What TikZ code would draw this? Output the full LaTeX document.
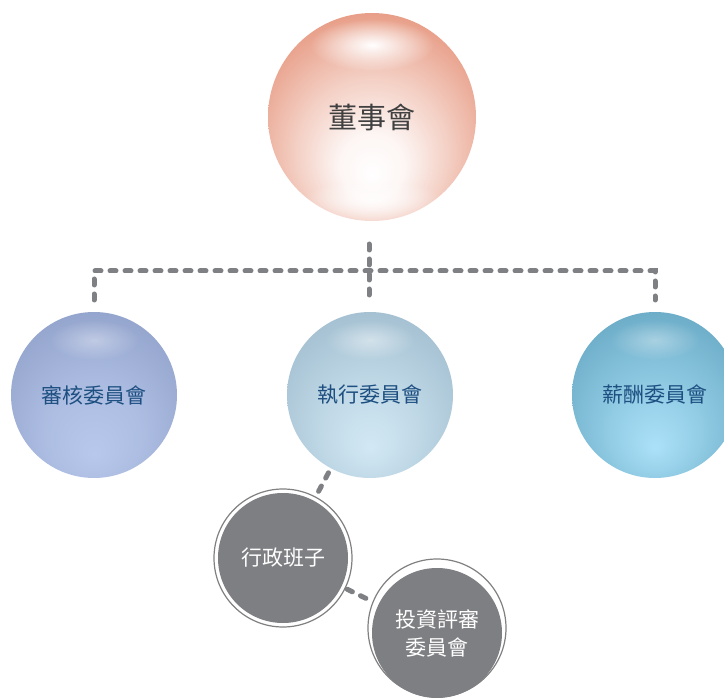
\documentclass[tikz,border=0pt]{standalone}
\usepackage{fontspec}
\newfontfamily\cjk{Noto Sans CJK TC}
\usetikzlibrary{fadings}
\tikzfading[name=glow, inner color=transparent!0, outer color=transparent!100]
\definecolor{salmon}{HTML}{E2866A}
\definecolor{lavA}{HTML}{8495BF}
\definecolor{lavB}{HTML}{B8C8EC}
\definecolor{iceA}{HTML}{8FAEC2}
\definecolor{iceB}{HTML}{D2E8F4}
\definecolor{tealA}{HTML}{5296B3}
\definecolor{tealB}{HTML}{ACE2F9}
\definecolor{ballgray}{HTML}{7E7F83}
\definecolor{dashgray}{HTML}{7F8084}
\definecolor{navy}{HTML}{1D4F80}
% outer circle (50bp) = circle edge
\pgfdeclareradialshading{topball}{\pgfpoint{0bp}{-14bp}}{color(0bp)=(white); color(8bp)=(white!92!salmon); color(20bp)=(salmon!45!white); color(32bp)=(salmon!85!white); color(44bp)=(salmon); color(50bp)=(salmon)}
\pgfdeclareradialshading{lavball}{\pgfpoint{0bp}{-18bp}}{color(0bp)=(lavB); color(14bp)=(lavB!80!lavA); color(38bp)=(lavA!85!lavB); color(50bp)=(lavA)}
\pgfdeclareradialshading{iceball}{\pgfpoint{0bp}{-16bp}}{color(0bp)=(iceB); color(14bp)=(iceB!75!iceA); color(38bp)=(iceA!85!iceB); color(50bp)=(iceA)}
\pgfdeclareradialshading{tealball}{\pgfpoint{0bp}{-16bp}}{color(0bp)=(tealB); color(14bp)=(tealB!70!tealA); color(38bp)=(tealA!85!tealB); color(50bp)=(tealA)}
\tikzset{
  ball/.style={circle, minimum size=166pt, inner sep=0pt},
  balltext/.style={font=\cjk\fontsize{21}{25}\selectfont, text=navy},
  topnode/.style={circle, minimum size=208pt, inner sep=0pt, shading=topball},
  grayball/.style={circle, minimum size=130pt, inner sep=0pt, fill=ballgray, text=white, align=center, font=\cjk\fontsize{21}{28}\selectfont},
  ring/.style={draw=black!50, line width=1.2pt, fill=white},
  dotline/.style={draw=dashgray, line width=5pt, line cap=round, dash pattern=on 6pt off 9pt},
  shine/.style={fill=white, path fading=glow}
}
\begin{document}
\begin{tikzpicture}[x=1pt,y=-1pt]
\useasboundingbox (0,0) rectangle (724,698);
% connectors
\coordinate (j0) at (369,244);
\coordinate (jl) at (94,271);
\coordinate (jr) at (655,271);
\coordinate (bl) at (94,300);
\coordinate (bm) at (369,300);
\coordinate (br) at (655,300);
\draw[dotline] (j0) -- (bm);
\draw[dotline] (bl) -- (jl) -- (jr) -- (br);
% top
\node[topnode] (top) at (372,117) {};
\fill[shine] (372,45) ellipse (62pt and 26pt);
\fill[shine, opacity=0.8] (372,200) ellipse (70pt and 20pt);
\node[font=\cjk\fontsize{29}{33}\selectfont, text=black!75] at (top) {董事會};
% middle row
\node[ball, shading=lavball] (audit) at (94,395) {};
\fill[shine, opacity=0.35] (94,340) ellipse (45pt and 20pt);
\node[balltext] at (audit) {審核委員會};
\node[ball, shading=iceball] (exec) at (370,395) {};
\fill[shine, opacity=0.45] (370,340) ellipse (45pt and 20pt);
\node[balltext] at (exec) {執行委員會};
\node[ball, shading=tealball] (pay) at (655,395) {};
\fill[shine, opacity=0.35] (655,340) ellipse (45pt and 20pt);
\node[balltext] at (pay) {薪酬委員會};
% lower gray circles
\draw[ring] (283,558) circle (69pt);
\node[grayball] (admin) at (283,558) {行政班子};
\draw[ring] (437,628) circle (69pt);
\node[grayball] (invest) at (437,633) {投資評審\\委員會};
\draw[dotline, shorten <=5pt, shorten >=8pt] (exec) -- (admin);
\draw[dotline, shorten <=6pt, shorten >=8pt] (admin) -- (invest);
\end{tikzpicture}
\end{document}
